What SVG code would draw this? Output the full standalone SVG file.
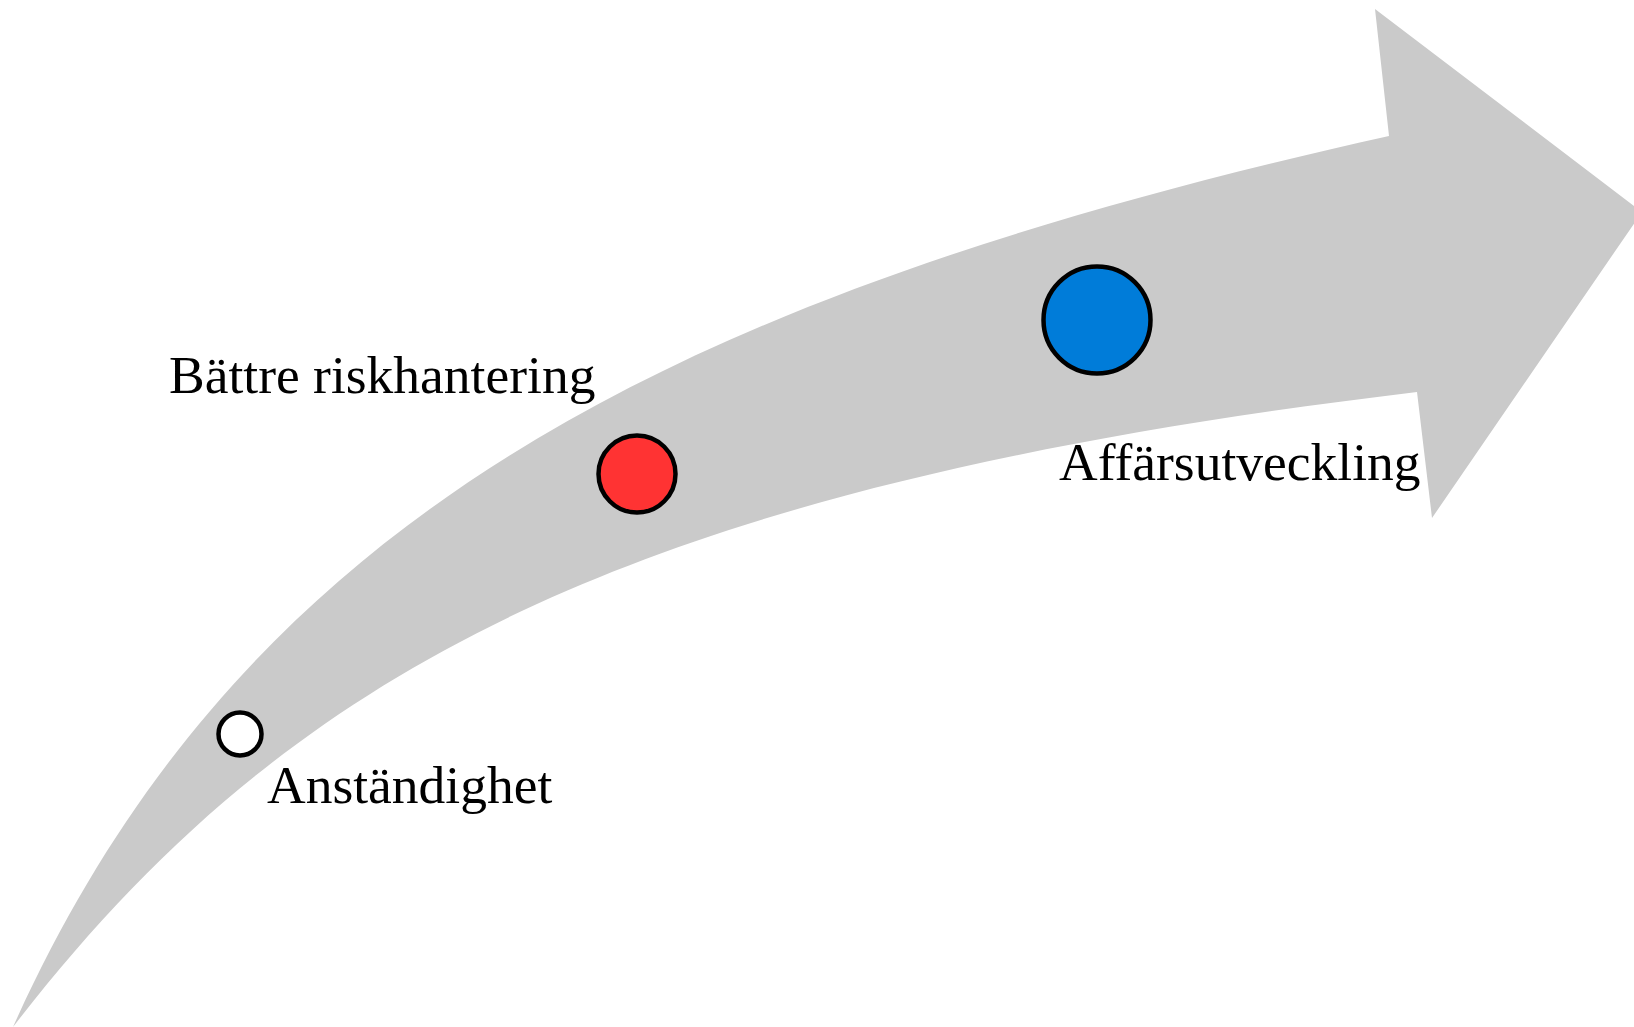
<svg xmlns="http://www.w3.org/2000/svg" width="1634" height="1027" viewBox="0 0 1634 1027">
  <style>
    .lbl { font-family: "Liberation Serif", "Times New Roman", serif; font-size: 53.5px; fill: #000000; }
    .dot { stroke: #000000; stroke-width: 4.5; }
    .band { fill: #cacaca; stroke: none; }
  </style>
  <rect width="1634" height="1027" fill="#ffffff"/>
  <g id="connectors">
    <path class="band" d="M13,1027 C238,526 657,299 1389,136 L1375,9 L1642,212 L1432,518 L1417,392 C623,487 287.5,671.5 13,1027 Z"/>
  </g>
  <g id="node-anstandighet">
    <circle class="dot" cx="240" cy="734" r="21.5" fill="#ffffff"/>
    <text class="lbl" x="267" y="803">Anständighet</text>
  </g>
  <g id="node-riskhantering">
    <circle class="dot" cx="637" cy="474" r="38.5" fill="#ff3333"/>
    <text class="lbl" x="169" y="393">Bättre riskhantering</text>
  </g>
  <g id="node-affarsutveckling">
    <circle class="dot" cx="1097" cy="320" r="53.5" fill="#007cd9"/>
    <text class="lbl" x="1059" y="480">Affärsutveckling</text>
  </g>
</svg>
